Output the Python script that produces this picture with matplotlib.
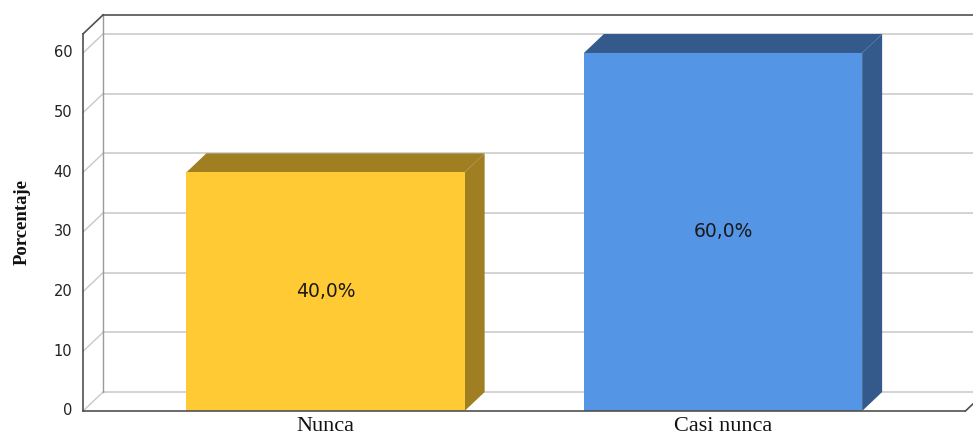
import numpy as np
import matplotlib
matplotlib.use('Agg')
import matplotlib.pyplot as plt
from matplotlib.patches import Polygon, Rectangle

# datos
categorias = ['Nunca', 'Casi nunca']
porcentajes = [40.0, 60.0]
etiquetas = ['40,0%', '60,0%']
ticks_y = [0, 10, 20, 30, 40, 50, 60]

frente = ['#FFCA33', '#5595E5']
sombra = ['#A07F22', '#345A8C']

# geometria del "3D"
ancho = 0.70
dx, dy = 0.0503, 3.18
pad = 0.26
tope = 63.2

fig = plt.figure(figsize=(9.73, 4.36), dpi=100)
ax = fig.add_axes([0, 0, 1, 1])
ax.set_xlim(-0.8189, 1.6289)
ax.set_ylim(-4.19, 68.88)
ax.axis('off')

pos = np.arange(len(categorias))
x0 = pos[0] - ancho / 2 - pad
x1 = pos[-1] + ancho / 2 + pad

gris_os = '#505050'
gris_cl = '#C8C8C8'

# pared de fondo: lineas de rejilla
for t in ticks_y:
    ax.plot([x0 + dx, x1 + dx + 0.2], [t + dy, t + dy], color=gris_cl, lw=1.1, zorder=1)
    ax.plot([x0, x0 + dx], [t, t + dy], color=gris_cl, lw=1.0, zorder=1)
ax.plot([x0 + dx, x0 + dx], [dy, tope + dy], color='#9A9A9A', lw=1.0, zorder=1)

# marco
ax.plot([x0, x0], [0, tope], color=gris_os, lw=1.2, zorder=2)
ax.plot([x0, x0 + dx], [tope, tope + dy], color=gris_os, lw=1.2, zorder=2)
ax.plot([x0 + dx, x1 + dx + 0.2], [tope + dy, tope + dy], color=gris_os, lw=1.2, zorder=2)
ax.plot([x1, x1 + dx], [0, dy], color=gris_os, lw=1.2, zorder=2)
ax.plot([x0, x1], [0, 0], color=gris_os, lw=1.2, zorder=4)

# barras
for p, v, cf, cs, lab in zip(pos, porcentajes, frente, sombra, etiquetas):
    izq, der = p - ancho / 2, p + ancho / 2
    ax.add_patch(Polygon([(izq, v), (izq + dx, v + dy), (der + dx, v + dy), (der, v)],
                         closed=True, facecolor=cs, edgecolor='none', zorder=3))
    ax.add_patch(Polygon([(der, 0), (der + dx, dy), (der + dx, v + dy), (der, v)],
                         closed=True, facecolor=cs, edgecolor='none', zorder=3))
    ax.add_patch(Rectangle((izq, 0), ancho, v, facecolor=cf, edgecolor='none', zorder=3))
    ax.text(p, v / 2, lab, ha='center', va='center', fontsize=13.5,
            family='DejaVu Sans', color='#1a1a1a', zorder=5)
    ax.text(p, -3.3, categorias[p], ha='center', va='baseline', fontsize=16,
            family='Liberation Serif', color='#111111', zorder=5)

# etiquetas del eje y
for t in ticks_y:
    ax.text(x0 - 0.027, t, str(t), ha='right', va='center', fontsize=10.5,
            family='DejaVu Sans', color='#222222')

ax.text(-0.7635, tope / 2, 'Porcentaje', rotation=90, ha='center', va='center',
        fontsize=13.5, family='Liberation Serif', fontweight='bold', color='#111111')

fig.savefig('out.png', dpi=100)
